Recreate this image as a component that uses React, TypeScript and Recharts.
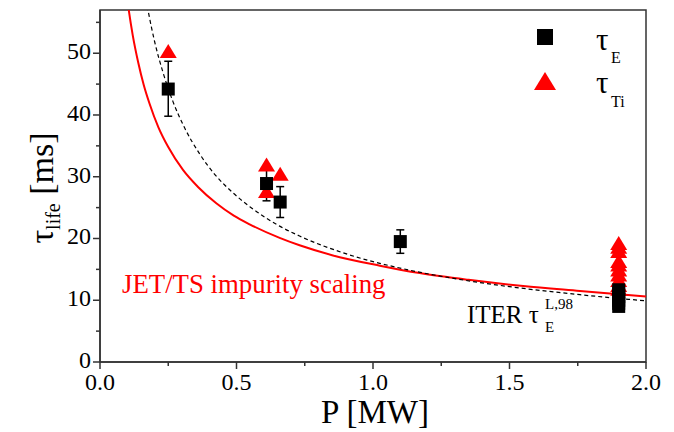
import {
  ComposedChart, Scatter, Line, XAxis, YAxis, ErrorBar,
  ReferenceArea, Customized, Legend,
} from 'recharts'

// ─── Datos ───────────────────────────────────────────────────────────────────

const X_TICKS = [0, 0.25, 0.5, 0.75, 1, 1.25, 1.5, 1.75, 2]
const Y_TICKS = [0, 5, 10, 15, 20, 25, 30, 35, 40, 45, 50, 55]

// τE (cuadrados negros) con barras de error [abajo, arriba]
const TAU_E_P   = [0.25, 0.61, 0.66, 1.10, 1.9, 1.9, 1.9, 1.9, 1.9, 1.9]
const TAU_E_V   = [44.2, 28.9, 25.9, 19.5, 11.7, 11.2, 10.6, 10.0, 9.5, 9.0]
const TAU_E_ERR = [[4.4, 4.5], [2.8, 2.7], [2.5, 2.5], [1.9, 1.9], [0, 0], [0, 0], [0, 0], [0, 0], [0, 0], [0, 0]]

// τTi (triángulos rojos)
const TAU_TI_P = [0.25, 0.61, 0.61, 0.66, 1.9, 1.9, 1.9, 1.9, 1.9, 1.9, 1.9, 1.9, 1.9, 1.9]
const TAU_TI_V = [50.0, 31.6, 27.3, 30.1, 18.9, 18.3, 17.6, 16.0, 15.4, 14.6, 13.8, 12.9, 12.1, 11.5]

// JET/TS impurity scaling (línea roja)
const JET_P = [0.095, 0.104, 0.12, 0.14, 0.16, 0.181, 0.214, 0.25, 0.304, 0.36, 0.426, 0.49, 0.548, 0.658, 0.731, 0.85, 1.025, 1.171, 1.35, 1.55, 1.758, 2.0]
const JET_V = [60.4, 57.4, 52.9, 48.5, 44.9, 41.9, 38.0, 34.8, 31.1, 28.3, 25.7, 23.7, 22.3, 20.1, 18.9, 17.3, 15.6, 14.4, 13.3, 12.3, 11.5, 10.6]

// ITER τE L,98 (línea discontinua)
const ITER_P = [0.16, 0.168, 0.178, 0.2, 0.23, 0.267, 0.309, 0.365, 0.42, 0.487, 0.55, 0.609, 0.658, 0.731, 0.903, 1.11, 1.3, 1.5, 1.758, 2.0]
const ITER_V = [61.0, 58.9, 56.5, 51.9, 47.0, 42.2, 38.0, 33.7, 30.4, 27.4, 25.1, 23.3, 22.0, 20.4, 17.5, 15.1, 13.5, 12.2, 10.9, 9.9]

const tauE  = TAU_E_P.map((p, i) => ({ p, v: TAU_E_V[i], err: TAU_E_ERR[i] }))
const tauTi = TAU_TI_P.map((p, i) => ({ p, v: TAU_TI_V[i] }))
const jet   = JET_P.map((p, i) => ({ p, v: JET_V[i] }))
const iter  = ITER_P.map((p, i) => ({ p, v: ITER_V[i] }))

// ─── Estilos ─────────────────────────────────────────────────────────────────

const FONT = '"Liberation Serif", "Times New Roman", serif'
const AXIS = '#333'
const RED  = '#ff0000'

// ─── Ticks y formas ──────────────────────────────────────────────────────────

function XTick({ x, y, payload }: any) {
  const v = payload.value
  const major = Math.abs(v * 2 - Math.round(v * 2)) < 1e-6
  return (
    <g>
      <line x1={x} y1={y} x2={x} y2={y + (major ? 7 : 4)} stroke={AXIS} strokeWidth={1.5} />
      {major && (
        <text x={x} y={y + 28} textAnchor="middle" fontFamily={FONT} fontSize={24} fill="#000">
          {v.toFixed(1)}
        </text>
      )}
    </g>
  )
}

function YTick({ x, y, payload }: any) {
  const v = payload.value
  const major = v % 10 === 0
  return (
    <g>
      <line x1={x} y1={y} x2={x - (major ? 7 : 4)} y2={y} stroke={AXIS} strokeWidth={1.5} />
      {major && (
        <text x={x - 9} y={y + 6} textAnchor="end" fontFamily={FONT} fontSize={24} fill="#000">
          {v}
        </text>
      )}
    </g>
  )
}

function Square({ cx, cy }: any) {
  return <rect x={cx - 6.5} y={cy - 6.5} width={13} height={13} fill="#000" />
}

function Triangle({ cx, cy }: any) {
  return <polygon points={`${cx},${cy - 9.3} ${cx - 8.5},${cy + 4.7} ${cx + 8.5},${cy + 4.7}`} fill={RED} />
}

// ─── Textos y leyenda ────────────────────────────────────────────────────────

function Anotaciones() {
  return (
    <g fontFamily={FONT}>
      <text x={122} y={293} fontSize={26.8} fill={RED}>JET/TS impurity scaling</text>
      <text x={467} y={323} fontSize={25} fill="#000">ITER τ</text>
      <text x={545} y={309} fontSize={15} fill="#000">L,98</text>
      <text x={545} y={332} fontSize={15} fill="#000">E</text>
      {/* títulos de ejes */}
      <text x={375} y={423} textAnchor="middle" fontSize={33} fill="#000">P [MW]</text>
      <text transform="rotate(-90 53 188)" x={53} y={188} textAnchor="middle" fontSize={34} fill="#000">
        τ<tspan fontSize={20} dy={7}>life</tspan><tspan dy={-7}> [ms]</tspan>
      </text>
    </g>
  )
}

function Leyenda() {
  return (
    <svg width={140} height={100} style={{ display: 'block' }}>
      <rect x={17} y={9} width={16} height={16} fill="#000" />
      <text x={76} y={30} fontFamily={FONT} fontSize={31}>τ</text>
      <text x={91} y={43} fontFamily={FONT} fontSize={16}>E</text>
      <polygon points="25,52 14,70 36,70" fill={RED} />
      <text x={76} y={73} fontFamily={FONT} fontSize={31}>τ</text>
      <text x={91} y={87} fontFamily={FONT} fontSize={16}>Ti</text>
    </svg>
  )
}

// ─── Componente ──────────────────────────────────────────────────────────────

export default function App() {
  return (
    <div style={{ position: 'absolute', left: 0, top: 0, background: '#fff' }}>
      <ComposedChart width={674} height={432} margin={{ top: 10, right: 28, left: 0, bottom: 0 }}>
        <XAxis
          type="number"
          dataKey="p"
          domain={[0, 2]}
          ticks={X_TICKS}
          interval={0}
          tickSize={0}
          tickMargin={0}
          tickLine={false}
          height={70}
          axisLine={{ stroke: AXIS, strokeWidth: 1.5 }}
          tick={<XTick />}
        />
        <YAxis
          type="number"
          dataKey="v"
          domain={[0, 57]}
          ticks={Y_TICKS}
          interval={0}
          allowDataOverflow
          tickSize={0}
          tickMargin={0}
          tickLine={false}
          width={100}
          axisLine={{ stroke: AXIS, strokeWidth: 1.5 }}
          tick={<YTick />}
        />
        <ReferenceArea x1={0} x2={2} y1={0} y2={57} fill="none" stroke={AXIS} strokeWidth={1.5} />

        <Scatter name="τTi" data={tauTi} dataKey="v" shape={<Triangle />} isAnimationActive={false} />
        <Scatter name="τE" data={tauE} dataKey="v" shape={<Square />} isAnimationActive={false}>
          <ErrorBar dataKey="err" direction="y" width={4} stroke="#000" strokeWidth={1.5} />
        </Scatter>

        <Line data={jet} dataKey="v" type="monotone" stroke={RED} strokeWidth={2} dot={false} isAnimationActive={false} />
        <Line data={iter} dataKey="v" type="monotone" stroke="#000" strokeWidth={1.2} strokeDasharray="4 3" dot={false} isAnimationActive={false} />

        <Legend
          layout="vertical"
          align="center"
          verticalAlign="middle"
          content={() => <Leyenda />}
          wrapperStyle={{ left: 520, top: 20, width: 140, height: 100 }}
        />
        <Customized component={<Anotaciones />} />
      </ComposedChart>
    </div>
  )
}
